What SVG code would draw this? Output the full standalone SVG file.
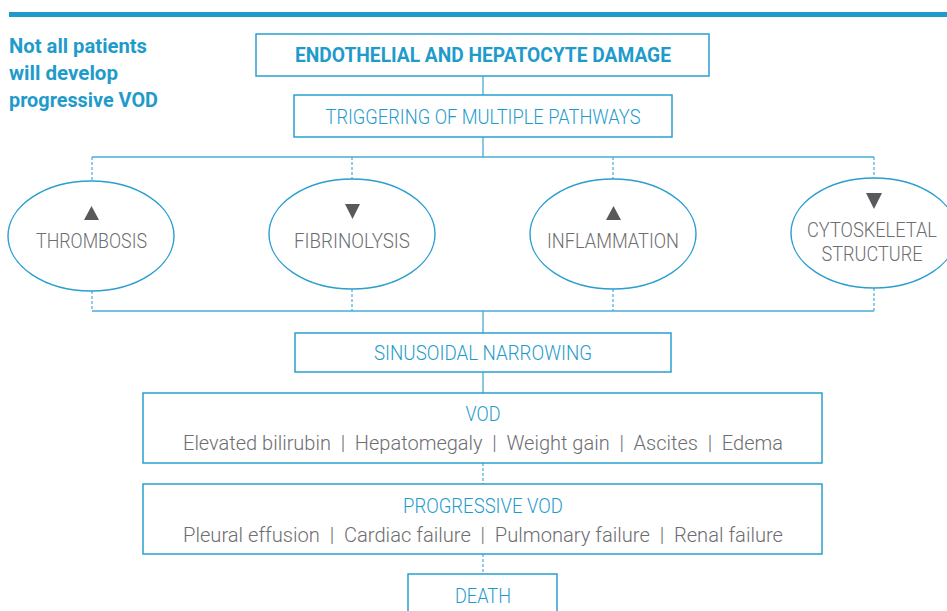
<svg xmlns="http://www.w3.org/2000/svg" width="947" height="611" viewBox="0 0 947 611">
<style>
.box{fill:#fff;stroke:#2a9fcf;stroke-width:1.5}
.ell{fill:#fff;stroke:#2a9fcf;stroke-width:1.4}
.t{font-family:Roboto,"Liberation Sans",sans-serif;font-size:20px;text-anchor:middle;font-weight:300}
.blue{fill:#1f9bcb}
.gray{fill:#6d6e71}
.bold{font-weight:bold}
.ln{stroke:#49acd6;stroke-width:1.3;fill:none}
.dash{stroke:#49acd6;stroke-width:1.2;stroke-dasharray:3 2;fill:none}
.tri{fill:#58595b}
</style>
<rect x="9" y="12" width="938" height="5" fill="#1f9bcb"/>
<g id="note">
<text class="blue bold" font-family="Roboto,'Liberation Sans',sans-serif" font-size="20" x="9" y="53" textLength="138" lengthAdjust="spacingAndGlyphs">Not all patients</text>
<text class="blue bold" font-family="Roboto,'Liberation Sans',sans-serif" font-size="20" x="9" y="80" textLength="109" lengthAdjust="spacingAndGlyphs">will develop</text>
<text class="blue bold" font-family="Roboto,'Liberation Sans',sans-serif" font-size="20" x="9" y="107" textLength="149" lengthAdjust="spacingAndGlyphs">progressive VOD</text>
</g>
<g id="connectors">
<line class="ln" x1="483" y1="76" x2="483" y2="95"/>
<line class="ln" x1="483" y1="137" x2="483" y2="157"/>
<line class="ln" x1="92" y1="157" x2="874" y2="157"/>
<line class="dash" x1="92" y1="157" x2="92" y2="181"/>
<line class="dash" x1="352" y1="157" x2="352" y2="179"/>
<line class="dash" x1="613" y1="157" x2="613" y2="179"/>
<line class="dash" x1="874" y1="157" x2="874" y2="178"/>
<line class="dash" x1="92" y1="291" x2="92" y2="311"/>
<line class="dash" x1="352" y1="289" x2="352" y2="311"/>
<line class="dash" x1="613" y1="289" x2="613" y2="311"/>
<line class="dash" x1="874" y1="288" x2="874" y2="311"/>
<line class="ln" x1="92" y1="311" x2="874" y2="311"/>
<line class="ln" x1="483" y1="311" x2="483" y2="333"/>
<line class="ln" x1="483" y1="372" x2="483" y2="393"/>
<line class="dash" x1="483" y1="463" x2="483" y2="484"/>
<line class="dash" x1="483" y1="554" x2="483" y2="574"/>
</g>
<g id="damage">
<rect class="box" x="256" y="34" width="453" height="42"/>
<text class="t blue bold" x="483" y="62" textLength="376" lengthAdjust="spacingAndGlyphs">ENDOTHELIAL AND HEPATOCYTE DAMAGE</text>
</g>
<g id="triggering">
<rect class="box" x="294" y="95" width="378" height="42"/>
<text class="t blue" x="483" y="124" textLength="315" lengthAdjust="spacingAndGlyphs">TRIGGERING OF MULTIPLE PATHWAYS</text>
</g>
<g id="thrombosis">
<ellipse class="ell" cx="91" cy="236" rx="83" ry="55"/>
<polygon class="tri" points="91.5,206 84,220 99,220"/>
<text class="t gray" x="91.5" y="248" textLength="111" lengthAdjust="spacingAndGlyphs">THROMBOSIS</text>
</g>
<g id="fibrinolysis">
<ellipse class="ell" cx="352" cy="234" rx="83" ry="55"/>
<polygon class="tri" points="345,204 360,204 352.5,219"/>
<text class="t gray" x="352" y="248" textLength="116" lengthAdjust="spacingAndGlyphs">FIBRINOLYSIS</text>
</g>
<g id="inflammation">
<ellipse class="ell" cx="613" cy="234" rx="83" ry="55"/>
<polygon class="tri" points="613.5,206 606,220 621,220"/>
<text class="t gray" x="613" y="248" textLength="132" lengthAdjust="spacingAndGlyphs">INFLAMMATION</text>
</g>
<g id="cytoskeletal">
<ellipse class="ell" cx="874" cy="233" rx="83" ry="55"/>
<polygon class="tri" points="866,193 882,193 874,209"/>
<text class="t gray" x="872" y="237" textLength="130" lengthAdjust="spacingAndGlyphs">CYTOSKELETAL</text>
<text class="t gray" x="872" y="261" textLength="101" lengthAdjust="spacingAndGlyphs">STRUCTURE</text>
</g>
<g id="sinusoidal">
<rect class="box" x="295" y="333" width="376" height="39"/>
<text class="t blue" x="483" y="360" textLength="218" lengthAdjust="spacingAndGlyphs">SINUSOIDAL NARROWING</text>
</g>
<g id="vod">
<rect class="box" x="143" y="393" width="679" height="70"/>
<text class="t blue" x="483" y="421" textLength="35" lengthAdjust="spacingAndGlyphs">VOD</text>
<text class="t gray" x="483" y="450" xml:space="preserve" textLength="600" lengthAdjust="spacingAndGlyphs">Elevated bilirubin  |  Hepatomegaly  |  Weight gain  |  Ascites  |  Edema</text>
</g>
<g id="progressive">
<rect class="box" x="143" y="484" width="679" height="70"/>
<text class="t blue" x="483" y="513" textLength="160" lengthAdjust="spacingAndGlyphs">PROGRESSIVE VOD</text>
<text class="t gray" x="483" y="542" xml:space="preserve" textLength="600" lengthAdjust="spacingAndGlyphs">Pleural effusion  |  Cardiac failure  |  Pulmonary failure  |  Renal failure</text>
</g>
<g id="death">
<rect class="box" x="408" y="574" width="149" height="45"/>
<text class="t blue" x="483" y="603" textLength="56" lengthAdjust="spacingAndGlyphs">DEATH</text>
</g>
</svg>
